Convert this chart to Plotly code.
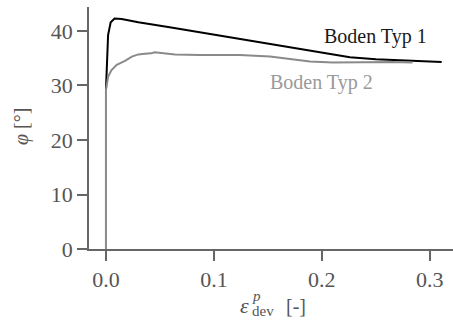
import plotly.graph_objects as go

# Friction angle vs. deviatoric plastic strain for two soil types
strain_typ1 = [0.0, 0.001, 0.002, 0.0044, 0.008, 0.0145, 0.03, 0.059, 0.087,
               0.124, 0.152, 0.189, 0.226, 0.25, 0.27, 0.29, 0.311]
phi_typ1 = [29.2, 36.0, 39.3, 41.6, 42.3, 42.2, 41.6, 40.7, 39.8,
            38.6, 37.7, 36.4, 35.2, 34.8, 34.6, 34.4, 34.3]

strain_typ2 = [0.0, 0.0, 0.002, 0.005, 0.01, 0.0176, 0.024, 0.03, 0.036, 0.042,
               0.045, 0.064, 0.087, 0.124, 0.152, 0.17, 0.189, 0.21, 0.24,
               0.265, 0.284]
phi_typ2 = [0.0, 29.2, 31.6, 32.8, 33.8, 34.5, 35.3, 35.7, 35.8, 35.9,
            36.1, 35.7, 35.6, 35.6, 35.3, 34.9, 34.4, 34.2, 34.3,
            34.3, 34.2]

x_ticks = [0.0, 0.1, 0.2, 0.3]
x_tick_labels = ["0.0", "0.1", "0.2", "0.3"]
y_ticks = [0, 10, 20, 30, 40]
y_tick_labels = ["0", "10", "20", "30", "40"]

series_labels = ["Boden Typ 1", "Boden Typ 2"]

FONT = "Liberation Serif, Times New Roman, serif"
AXIS_GREY = "#666666"
TICK_GREY = "#555555"

W, H = 453, 326
ML, MR, MT, MB = 89, 0, 7, 77
XR = [-0.0157, 0.3215]
YR = [0, 44.4]

fig = go.Figure()
fig.add_trace(go.Scatter(x=strain_typ1, y=phi_typ1, mode="lines",
                         line=dict(color="#000000", width=2), showlegend=False))
fig.add_trace(go.Scatter(x=strain_typ2, y=phi_typ2, mode="lines",
                         line=dict(color="#8a8a8a", width=2), showlegend=False))

axis_common = dict(showgrid=False, zeroline=False, showline=True,
                   linecolor=AXIS_GREY, linewidth=1.6, ticks="outside",
                   ticklen=10, tickwidth=1.6, tickcolor=AXIS_GREY,
                   tickfont=dict(family=FONT, size=22, color=TICK_GREY))

fig.update_xaxes(range=XR, tickvals=x_ticks, ticktext=x_tick_labels, **axis_common)
fig.update_yaxes(range=YR, tickvals=y_ticks, ticktext=y_tick_labels, **axis_common)

pw = W - ML - MR
ph = H - MT - MB


def px_to_paper(px, py):
    return (px - ML) / pw, (H - MB - py) / ph


annots = []
# Curve labels
annots.append(dict(x=0.25, y=39.0, xref="x", yref="y", text=series_labels[0],
                   showarrow=False, xanchor="center", yanchor="middle",
                   font=dict(family=FONT, size=20, color="#1a1a1a")))
annots.append(dict(x=0.1995, y=30.6, xref="x", yref="y", text=series_labels[1],
                   showarrow=False, xanchor="center", yanchor="middle",
                   font=dict(family=FONT, size=20, color="#999999")))

# y-axis title
yx, yy = px_to_paper(21, 127)
annots.append(dict(x=yx, y=yy, xref="paper", yref="paper",
                   text="<i>φ</i> [°]", textangle=-90, showarrow=False,
                   xanchor="center", yanchor="middle",
                   font=dict(family=FONT, size=20, color=TICK_GREY)))

# x-axis title: ε with stacked superscript p and subscript dev
ex, ey = px_to_paper(238, 305)
annots.append(dict(x=ex, y=ey, xref="paper", yref="paper",
                   text="<i>ε</i>", showarrow=False,
                   xanchor="left", yanchor="middle",
                   font=dict(family=FONT, size=22, color=TICK_GREY)))
sx, sy = px_to_paper(250, 296)
annots.append(dict(x=sx, y=sy, xref="paper", yref="paper",
                   text="<i>p</i>", showarrow=False,
                   xanchor="left", yanchor="middle",
                   font=dict(family=FONT, size=15, color=TICK_GREY)))
dx, dy = px_to_paper(250, 311)
annots.append(dict(x=dx, y=dy, xref="paper", yref="paper",
                   text="dev", showarrow=False,
                   xanchor="left", yanchor="middle",
                   font=dict(family=FONT, size=15, color=TICK_GREY)))
bx, by = px_to_paper(284, 306)
annots.append(dict(x=bx, y=by, xref="paper", yref="paper",
                   text="[-]", showarrow=False,
                   xanchor="left", yanchor="middle",
                   font=dict(family=FONT, size=20, color=TICK_GREY)))

fig.update_layout(width=W, height=H,
                  margin=dict(l=ML, r=MR, t=MT, b=MB, pad=0),
                  paper_bgcolor="white", plot_bgcolor="white",
                  font=dict(family=FONT, color=TICK_GREY),
                  annotations=annots, showlegend=False)

fig.write_html("out.html")
